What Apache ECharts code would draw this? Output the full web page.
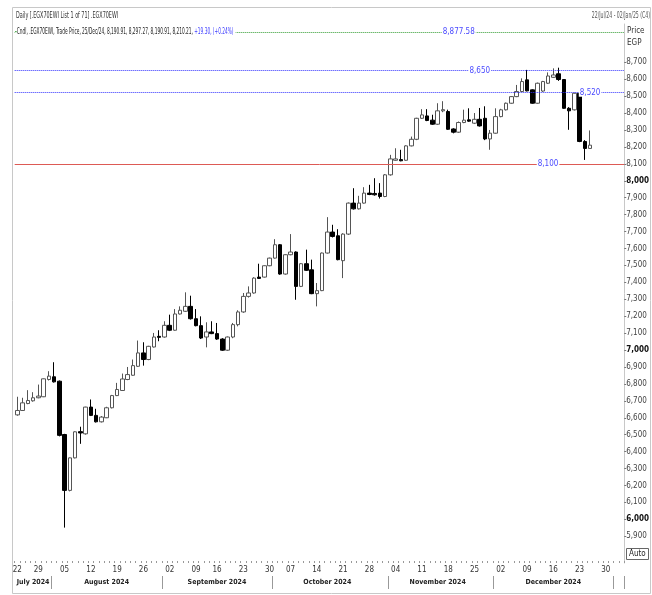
<!DOCTYPE html>
<html>
<head>
<meta charset="utf-8">
<title>.EGX70EWI Daily</title>
<script src="https://cdn.jsdelivr.net/npm/echarts@6/dist/echarts.min.js"></script>
<style>
  html, body { margin: 0; padding: 0; background: #fff; }
  #chart { width: 652px; height: 595px; }
</style>
</head>
<body>
<div id="chart"></div>
<script>
// trading days (Sun-Thu), last two are empty slots up to 02/Jan/25
var days = [
  '2024-07-22','2024-07-24','2024-07-25','2024-07-28','2024-07-29','2024-07-30','2024-07-31',
  '2024-08-01','2024-08-04','2024-08-05','2024-08-06','2024-08-07','2024-08-08','2024-08-11','2024-08-12','2024-08-13','2024-08-14','2024-08-15',
  '2024-08-18','2024-08-19','2024-08-20','2024-08-21','2024-08-22','2024-08-25','2024-08-26','2024-08-27','2024-08-28','2024-08-29',
  '2024-09-01','2024-09-02','2024-09-03','2024-09-04','2024-09-05','2024-09-08','2024-09-09','2024-09-10','2024-09-11','2024-09-12',
  '2024-09-16','2024-09-17','2024-09-18','2024-09-19','2024-09-22','2024-09-23','2024-09-24','2024-09-25','2024-09-26','2024-09-29','2024-09-30',
  '2024-10-01','2024-10-02','2024-10-03','2024-10-07','2024-10-08','2024-10-09','2024-10-10','2024-10-13','2024-10-14','2024-10-15','2024-10-16','2024-10-17',
  '2024-10-20','2024-10-21','2024-10-22','2024-10-23','2024-10-24','2024-10-27','2024-10-28','2024-10-29','2024-10-30','2024-10-31',
  '2024-11-03','2024-11-04','2024-11-05','2024-11-06','2024-11-07','2024-11-10','2024-11-11','2024-11-12','2024-11-13','2024-11-14',
  '2024-11-17','2024-11-18','2024-11-19','2024-11-20','2024-11-21','2024-11-24','2024-11-25','2024-11-26','2024-11-27','2024-11-28',
  '2024-12-01','2024-12-02','2024-12-03','2024-12-04','2024-12-05','2024-12-08','2024-12-09','2024-12-10','2024-12-11','2024-12-12',
  '2024-12-15','2024-12-16','2024-12-17','2024-12-18','2024-12-19','2024-12-22','2024-12-23','2024-12-24','2024-12-25','2024-12-26',
  '2024-12-29','2024-12-30','2024-12-31','2025-01-01','2025-01-02'
];

var opens = [
  6617,6643,6684,6700,6718,6724,6826,6842,6816,6501,6171,6363,6518,6505,6663,6614,6576,6600,6659,6731,
  6761,6826,6851,6904,6983,6944,7018,7081,7077,7146,7117,7213,7229,7258,7185,7144,7077,7107,7097,7065,
  6999,7077,7150,7225,7317,7337,7431,7431,7498,7543,7622,7449,7563,7579,7376,7510,7474,7333,7351,7573,
  7697,7675,7528,7685,7868,7834,7868,7927,7925,7927,7907,8035,8121,8125,8121,8206,8245,8369,8383,8358,
  8334,8413,8409,8306,8287,8344,8360,8340,8363,8369,8247,8281,8379,8419,8458,8497,8527,8596,8537,8458,
  8530,8576,8611,8632,8598,8428,8419,8517,8232,8190.91
];
var highs = [
  6724,6718,6763,6751,6796,6832,6875,6928,6820,6505,6365,6520,6547,6665,6708,6653,6610,6665,6735,6806,
  6861,6900,6944,7056,7046,7025,7101,7117,7170,7209,7242,7258,7341,7321,7242,7199,7164,7170,7160,7070,
  7080,7160,7235,7337,7376,7430,7510,7500,7546,7655,7626,7566,7685,7583,7514,7593,7534,7396,7576,7785,
  7740,7714,7690,7872,7956,7911,7962,7976,8015,7986,8040,8153,8192,8183,8210,8261,8372,8423,8423,8390,
  8458,8470,8420,8310,8350,8420,8428,8400,8430,8440,8300,8428,8425,8462,8500,8566,8605,8655,8540,8580,
  8590,8640,8664,8668,8600,8435,8520,8520,8240,8297.27
];
var lows = [
  6612,6640,6680,6695,6715,6722,6820,6808,6490,5951,6165,6360,6446,6500,6610,6572,6572,6598,6655,6728,
  6758,6822,6848,6900,6908,6940,7015,7052,7073,7112,7114,7210,7225,7180,7140,7065,7016,7094,7060,6995,
  6995,7070,7140,7220,7310,7333,7420,7428,7495,7540,7445,7445,7560,7297,7372,7467,7330,7258,7348,7570,
  7665,7530,7425,7680,7830,7830,7865,7915,7912,7895,7903,8030,8118,8115,8118,8203,8240,8365,8352,8330,
  8330,8405,8300,8280,8283,8340,8348,8335,8320,8240,8183,8278,8375,8415,8455,8494,8524,8528,8455,8455,
  8525,8572,8608,8590,8425,8301,8415,8228,8123,8190.91
];
var closes = [
  6643,6688,6702,6718,6728,6830,6846,6812,6496,6171,6363,6517,6510,6663,6614,6576,6604,6659,6731,6767,
  6829,6855,6908,6983,6944,7022,7077,7075,7146,7117,7213,7235,7258,7185,7144,7071,7107,7097,7065,6999,
  7077,7150,7225,7317,7337,7425,7423,7498,7543,7622,7449,7563,7579,7376,7510,7471,7333,7351,7573,7697,
  7671,7534,7685,7868,7834,7868,7927,7919,7917,7907,8035,8129,8129,8118,8206,8245,8369,8389,8356,8334,
  8413,8420,8304,8287,8344,8358,8352,8363,8324,8247,8281,8379,8419,8458,8497,8527,8586,8531,8458,8576,
  8586,8619,8625,8598,8428,8413,8517,8232,8190.91,8210.21
];

// price scale labels
var priceTicks = [5900,6000,6100,6200,6300,6400,6500,6600,6700,6800,6900,7000,7100,7200,7300,
  7400,7500,7600,7700,7800,7900,8000,8100,8200,8300,8400,8500,8600,8700];

// horizontal study lines drawn on the chart
var levelValues = [8877.58, 8650, 8520, 8100];

var monthNames = ['January','February','March','April','May','June','July','August',
  'September','October','November','December'];

var FONT = '"Liberation Sans Narrow", "DejaVu Sans Condensed", sans-serif';

function fmt(v, d) {
  return v.toLocaleString('en-US', {minimumFractionDigits: d, maximumFractionDigits: d});
}
function isMonday(d) {
  return new Date(d + 'T00:00:00Z').getUTCDay() === 1;
}

// middle slot of each month gets the month caption
var monthMid = {};
var start = 0;
for (var i = 1; i <= days.length; i++) {
  if (i === days.length || days[i].slice(0, 7) !== days[start].slice(0, 7)) {
    if (days[start].slice(0, 4) === '2024') monthMid[Math.floor((start + i - 1) / 2)] = true;
    start = i;
  }
}

var candles = opens.map(function (o, i) { return [o, closes[i], lows[i], highs[i]]; });
var last = closes[closes.length - 1];
var prev = closes[closes.length - 2];
var chg = last - prev;

var levelStyles = [
  {color: '#2e9a2e', type: 'dotted'},
  {color: '#2f2fff', type: 'dotted'},
  {color: '#2f2fff', type: 'dotted'},
  {color: '#dd5a55', type: 'solid'}
];
var levelLabelDay = [84, 88, 109, 101];

var myChart = echarts.init(document.getElementById('chart'));
var option = {
  animation: false,
  backgroundColor: '#fff',
  grid: {left: 14.7, right: 26.2, top: 24, bottom: 32},
  xAxis: [
    {
      type: 'category',
      data: days,
      boundaryGap: true,
      axisLine: {show: false},
      axisTick: {show: true, inside: true, length: 2, interval: 0, lineStyle: {color: '#999'}},
      axisLabel: {
        interval: function (idx, val) { return isMonday(val); },
        formatter: function (val) { return val.slice(8); },
        margin: 3, fontSize: 8, color: '#333', fontFamily: FONT
      },
      splitLine: {show: false}
    },
    {
      type: 'category',
      data: days,
      boundaryGap: true,
      position: 'bottom',
      offset: 13,
      axisLine: {show: false},
      axisTick: {
        show: true, length: 13, lineStyle: {color: '#999'},
        interval: function (idx) { return idx > 0 && days[idx].slice(0, 7) !== days[idx - 1].slice(0, 7); }
      },
      axisLabel: {
        interval: function (idx) { return !!monthMid[idx]; },
        formatter: function (val) { return monthNames[+val.slice(5, 7) - 1] + ' ' + val.slice(0, 4); },
        margin: 3, fontSize: 7, color: '#222', fontWeight: 'bold', fontFamily: FONT
      },
      splitLine: {show: false}
    }
  ],
  yAxis: {
    type: 'value',
    position: 'right',
    min: 5742,
    max: 8926,
    splitLine: {show: false},
    axisLine: {show: true, lineStyle: {color: '#c8c8c8'}},
    axisTick: {show: true, length: 2, customValues: priceTicks, lineStyle: {color: '#777'}},
    axisLabel: {
      customValues: priceTicks,
      margin: 2, fontSize: 8, color: '#444', fontFamily: FONT,
      formatter: function (v) {
        var s = fmt(v, 0);
        return v % 1000 === 0 ? '{b|' + s + '}' : s;
      },
      rich: {b: {fontWeight: 'bold', color: '#111', fontSize: 8, fontFamily: FONT}}
    }
  },
  series: [{
    type: 'candlestick',
    data: candles,
    barWidth: 4,
    itemStyle: {
      color: '#fff', borderColor: '#555',
      color0: '#000', borderColor0: '#000',
      borderWidth: 1
    },
    markLine: {
      silent: true,
      symbol: ['none', 'none'],
      label: {show: false},
      data: levelValues.map(function (v, k) {
        return {yAxis: v, lineStyle: {color: levelStyles[k].color, type: levelStyles[k].type, width: 1}};
      }).concat([{
        yAxis: last,
        lineStyle: {opacity: 0},
        label: {
          show: true, position: 'end', distance: 0,
          formatter: fmt(last, 2),
          backgroundColor: '#000', color: '#fff', fontWeight: 'bold',
          fontSize: 8, fontFamily: FONT, padding: [1, 1, 0, 1]
        }
      }])
    },
    markPoint: {
      silent: true,
      symbol: 'circle',
      symbolSize: 0,
      label: {
        show: true, position: 'inside', color: '#4a4aff', fontSize: 8, fontFamily: FONT,
        backgroundColor: '#fff', padding: [0, 1]
      },
      data: levelValues.map(function (v, k) {
        return {
          coord: [days[levelLabelDay[k]], v],
          label: {formatter: fmt(v, Number.isInteger(v) ? 0 : 2)}
        };
      })
    }
  }],
  graphic: [
    {
      type: 'rect', z: 0, silent: true,
      shape: {x: 12.5, y: 7.5, width: 638, height: 586},
      style: {fill: 'none', stroke: '#c8c8c8', lineWidth: 1}
    },
    {
      type: 'text', z: 100, x: 16, y: 11, scaleX: 0.6,
      style: {text: 'Daily [.EGX70EWI List 1 of 71] .EGX70EWI', font: '9px ' + FONT, fill: '#333'}
    },
    {
      type: 'text', z: 100, x: 650, y: 11, scaleX: 0.57,
      style: {text: '22/Jul/24 - 02/Jan/25 (C4)', font: '9px ' + FONT, fill: '#555', align: 'right'}
    },
    {
      type: 'text', z: 100, x: 15, y: 27, scaleX: 0.53,
      style: {
        text: '{g|-}{k|Cndl, .EGX70EWI, Trade Price, 25/Dec/24, ' +
          [opens[opens.length - 1], highs[highs.length - 1], lows[lows.length - 1], last].map(function (v) { return fmt(v, 2); }).join(', ') +
          ', }{c|+' + fmt(chg, 2) + ', (+' + fmt(chg / prev * 100, 2) + '%)}',
        backgroundColor: '#fff',
        padding: [0, 4, 0, 0],
        rich: {
          g: {fill: '#2e9a2e', font: 'bold 9px ' + FONT},
          k: {fill: '#222', font: '9px ' + FONT},
          c: {fill: '#3a3aff', font: '9px ' + FONT}
        }
      }
    },
    {
      type: 'text', z: 100, x: 627, y: 27,
      style: {text: 'Price', font: '8px ' + FONT, fill: '#333'}
    },
    {
      type: 'text', z: 100, x: 627, y: 39,
      style: {text: 'EGP', font: '8px ' + FONT, fill: '#333'}
    },
    {
      type: 'rect', z: 100, silent: true,
      shape: {x: 626.5, y: 548.5, width: 22, height: 11},
      style: {fill: '#fff', stroke: '#666', lineWidth: 1}
    },
    {
      type: 'text', z: 101, x: 629, y: 550,
      style: {text: 'Auto', font: '8px ' + FONT, fill: '#222'}
    }
  ]
};
myChart.setOption(option);
window.addEventListener('resize', function () {
  myChart.resize();
});
</script>
</body>
</html>
